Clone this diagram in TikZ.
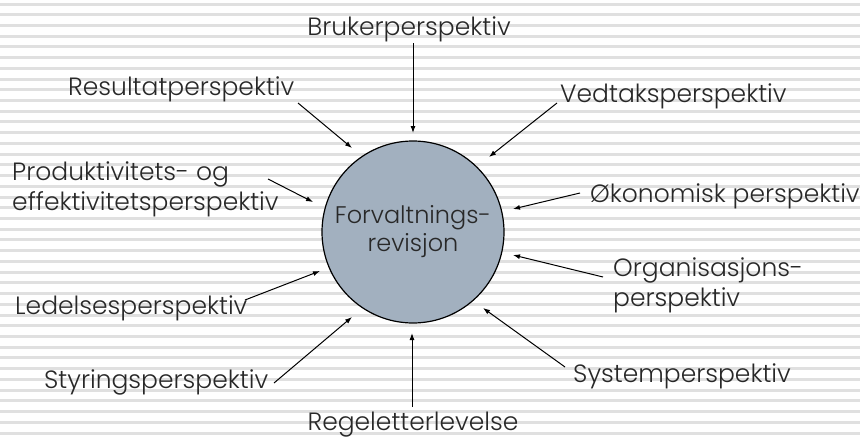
\documentclass[tikz,border=0pt]{standalone}
\usepackage{fontspec}
\setmainfont{Poppins Light}
\usetikzlibrary{arrows.meta}
\definecolor{stripe}{RGB}{224,224,224}
\definecolor{bubble}{RGB}{162,176,191}
\definecolor{ink}{RGB}{40,40,40}
\begin{document}
\begin{tikzpicture}[x=1pt,y=-1pt,
  lbl/.style={inner sep=0pt, text=ink, font=\fontsize{25}{30}\selectfont},
  conn/.style={draw=black, line width=1pt, -{Latex[length=7pt,width=5pt]}}]
\useasboundingbox (0,0) rectangle (860,439);
\fill[white] (0,0) rectangle (860,439);
\foreach \k in {0,...,40} {
  \draw[stripe, line width=3pt] (0,{4+10.725*\k}) -- (860,{4+10.725*\k});
}
% centre
\node[circle, draw=black, fill=bubble, line width=1.2pt, minimum size=182pt,
      inner sep=0pt, align=center, text=ink, font=\fontsize{24}{28}\selectfont]
      (center) at (413,232) {Forvaltnings-\\revisjon};
% labels
\node[lbl, anchor=base] (bruker) at (409,35) {Brukerperspektiv};
\node[lbl, anchor=base west] (resultat) at (68,95) {Resultatperspektiv};
\node[lbl, anchor=base west] (vedtak) at (560,102) {Vedtaksperspektiv};
\node[lbl, anchor=base west, align=left] (produkt) at (12,210) {Produktivitets- og\\effektivitetsperspektiv};
\node[lbl, anchor=base west] (okonomi) at (590,202) {Økonomisk perspektiv};
\node[lbl, anchor=base west, align=left] (organ) at (613,306) {Organisasjons-\\perspektiv};
\node[lbl, anchor=base west] (ledelse) at (15,314) {Ledelsesperspektiv};
\node[lbl, anchor=base west] (styring) at (44,388) {Styringsperspektiv};
\node[lbl, anchor=base west] (system) at (573,382) {Systemperspektiv};
\node[lbl, anchor=base] (regel) at (413,430) {Regeletterlevelse};
% connector ends
\coordinate (s1) at (413,43);  \coordinate (e1) at (413,133);
\coordinate (s2) at (298,103); \coordinate (e2) at (352,148);
\coordinate (s3) at (557,103); \coordinate (e3) at (489,157);
\coordinate (s4) at (268,179); \coordinate (e4) at (313,202);
\coordinate (s5) at (580,193); \coordinate (e5) at (513,209);
\coordinate (s6) at (603,277); \coordinate (e6) at (513,255);
\coordinate (s7) at (245,300); \coordinate (e7) at (320,271);
\coordinate (s8) at (274,383); \coordinate (e8) at (352,317);
\coordinate (s9) at (412,407); \coordinate (e9) at (412,333);
\coordinate (s10) at (565,367); \coordinate (e10) at (483,308);
\foreach \i in {1,...,10} { \draw[conn] (s\i) -- (e\i); }
\end{tikzpicture}
\end{document}
